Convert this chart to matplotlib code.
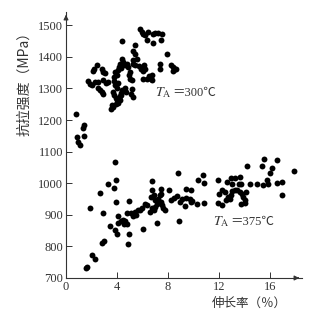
import matplotlib
matplotlib.use("Agg")
import matplotlib.pyplot as plt

plt.rcParams['mathtext.fontset'] = 'stix'

# ---- data ----
x300 = [0.78, 0.84, 0.95, 1.10, 1.40, 1.35, 1.45,
        1.75, 1.88, 2.00, 2.40, 2.20, 2.15, 2.80, 2.90, 3.06,
        2.50, 2.67, 2.27, 2.53, 2.93, 3.14, 3.32, 2.80, 2.93,
        3.58, 3.53, 3.71,
        3.70, 3.80, 3.90, 4.00, 4.10, 4.20, 4.30, 4.40, 4.00, 3.85, 4.10, 3.75, 4.25, 4.35, 3.95,
        3.80, 4.00, 3.84, 4.10, 4.40,
        4.37, 4.50, 4.76, 4.63, 4.89, 4.25, 4.35, 4.15,
        5.00, 4.90, 5.00, 5.15, 5.15, 5.07, 5.23, 4.60, 4.70,
        5.40, 5.28, 5.40, 5.55, 5.28, 5.23, 5.40,
        5.70, 5.85, 6.00, 6.15, 6.20, 6.05,
        5.80, 5.94, 6.06, 6.20, 6.33, 6.45,
        6.33, 6.53, 6.72, 6.06,
        6.85, 6.98, 6.85, 7.24, 7.50, 7.43, 7.95, 7.37, 7.37,
        8.20, 8.40, 8.55, 8.37, 8.63, 6.72, 6.67]
y300 = [1220, 1146, 1132, 1122, 1183, 1174, 1150,
        1325, 1315, 1310, 1373, 1362, 1355, 1362, 1352, 1349,
        1301, 1296, 1322, 1319, 1326, 1318, 1320, 1289, 1284,
        1247, 1236, 1241,
        1290, 1280, 1270, 1262, 1255, 1275, 1285, 1295, 1300, 1310, 1318, 1325, 1265, 1280, 1250,
        1336, 1341, 1352, 1357, 1449,
        1394, 1383, 1378, 1373, 1368, 1378, 1365, 1368,
        1352, 1341, 1331, 1326, 1299, 1284, 1273, 1300, 1290,
        1436, 1420, 1408, 1394, 1389, 1378, 1373,
        1370, 1362, 1365, 1373, 1360, 1356,
        1489, 1478, 1473, 1468, 1452, 1478,
        1331, 1338, 1326, 1331,
        1473, 1477, 1444, 1477, 1473, 1454, 1410, 1378, 1363,
        1373, 1368, 1363, 1355, 1360, 1341, 1331]

x375 = [1.55, 1.65, 1.88, 2.06, 2.27, 2.67, 2.80, 2.98, 2.93, 3.32, 3.45, 3.76, 3.87, 3.92,
        3.84, 3.95, 4.02, 4.10, 4.10, 4.29, 4.45, 4.63, 4.76, 4.55, 4.94, 4.80, 5.12, 4.84, 4.94,
        5.39, 5.65, 5.78, 5.96, 6.22, 6.38, 5.50, 5.28, 6.06, 6.72, 6.75,
        6.64, 6.90, 7.00, 7.20, 7.35, 7.48, 7.43, 7.16, 7.53, 7.60, 7.74, 6.95, 6.75, 6.56, 6.90,
        7.16, 7.43, 8.05, 8.20, 8.47, 8.73, 8.90, 8.78, 8.89,
        9.10, 9.40, 9.70, 9.90, 9.44, 9.83, 9.36, 9.83, 10.30, 10.82, 10.35, 10.75, 10.82,
        11.95, 12.65, 13.00, 12.20, 12.00, 12.47, 12.73, 11.95, 12.20, 12.55, 12.86,
        12.90, 13.28, 13.62, 13.55, 13.70, 14.40, 14.98, 15.45, 15.84, 15.79, 16.57, 16.94, 16.90,
        13.23, 13.44, 13.62, 13.80, 14.14, 13.02, 12.90, 13.90, 14.00, 13.70, 14.00,
        14.22, 15.37, 16.18, 16.03, 17.88, 15.53, 16.57]
y375 = [733, 735, 920, 774, 761, 969, 812, 817, 906, 996, 864, 985, 1067, 1011,
        851, 939, 838, 896, 874, 879, 883, 880, 870, 872, 945, 906, 906, 807, 838,
        909, 914, 916, 923, 933, 930, 900, 895, 856, 1007, 980,
        956, 962, 946, 951, 962, 967, 941, 935, 930, 920, 916, 925, 920, 909, 914,
        875, 983, 980, 948, 954, 958, 941, 1032, 880,
        950, 952, 950, 945, 983, 980, 927, 941, 935, 937, 1011, 1025, 1002,
        1009, 1004, 999, 977, 967, 972, 956, 937, 930, 946, 951,
        1015, 1015, 1020, 999, 996, 999, 999, 993, 996, 1009, 1002, 1004, 962,
        977, 980, 972, 967, 972, 974, 962, 956, 948, 935, 937,
        1053, 1053, 1049, 1032, 1039, 1076, 1072]

xticks = [0, 4, 8, 12, 16]
yticks = [700, 800, 900, 1000, 1100, 1200, 1300, 1400, 1500]

W, H = 317, 310
TXT = '#333333'
fig = plt.figure(figsize=(W / 100, H / 100), dpi=100)
ax = fig.add_axes([66 / W, 1 - 278 / H, (302 - 66) / W, (278 - 12) / H])

ax.scatter(x300, y300, s=18, color='black', linewidths=0, zorder=3)
ax.scatter(x375, y375, s=18, color='black', linewidths=0, zorder=3)

ax.set_xlim(0, 18.5)
ax.set_ylim(700, 1542)
for sp in ['top', 'right']:
    ax.spines[sp].set_visible(False)
for sp in ['left', 'bottom']:
    ax.spines[sp].set_linewidth(0.8)
    ax.spines[sp].set_color(TXT)

ax.set_xticks(xticks)
ax.set_yticks(yticks)
ax.tick_params(direction='in', length=4, width=0.7, colors=TXT,
               labelsize=9, pad=2)
for lab in ax.get_xticklabels() + ax.get_yticklabels():
    lab.set_fontfamily('Liberation Serif')
    lab.set_color(TXT)

# arrows on axes
ax.annotate('', xy=(1.0, 0), xytext=(0.97, 0), xycoords='axes fraction',
            arrowprops=dict(arrowstyle='-|>', color=TXT, lw=0.8,
                            mutation_scale=7), annotation_clip=False)
ax.annotate('', xy=(0, 1.0), xytext=(0, 0.97), xycoords='axes fraction',
            arrowprops=dict(arrowstyle='-|>', color=TXT, lw=0.8,
                            mutation_scale=7), annotation_clip=False)

cjk = ['Noto Sans CJK SC', 'DejaVu Sans']
fig.text(24 / W, 1 - 80 / H, '抗拉强度（MPa）', rotation=90, ha='center', va='center',
         fontsize=10, family=cjk, color=TXT)
fig.text(249 / W, 1 - 303 / H, '伸长率（％）', ha='center', va='center',
         fontsize=9, family=cjk, color=TXT)

serif_cjk = ['Liberation Serif', 'Noto Sans CJK SC', 'DejaVu Sans']
for (px, py, s) in [(155, 93, '＝300℃'), (213, 222, '＝375℃')]:
    t = fig.text(px / W, 1 - py / H, r'$T_{\mathrm{A}}$', ha='left', va='center',
                 fontsize=10, color=TXT)
    fig.canvas.draw()
    ax.annotate(s, xy=(1, 0.5), xycoords=t, xytext=(0.5, 0),
                textcoords='offset points', ha='left', va='center',
                fontsize=9, family=serif_cjk, color=TXT, annotation_clip=False)

fig.savefig('out.png', dpi=100)
